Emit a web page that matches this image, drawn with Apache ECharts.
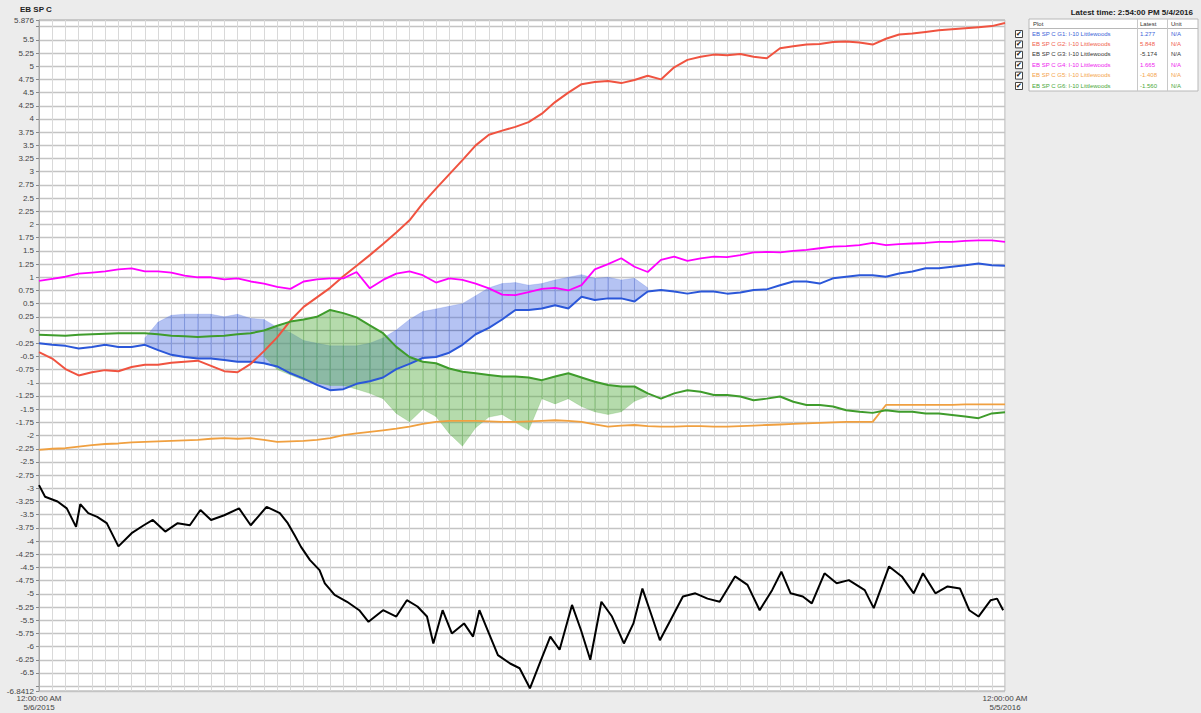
<!DOCTYPE html>
<html><head><meta charset="utf-8">
<script src="https://cdn.jsdelivr.net/npm/echarts@6/dist/echarts.min.js"></script>
<style>html,body{margin:0;padding:0;background:#ececec}#c{width:1201px;height:713px}</style>
</head><body><div id="c"></div>
<script>
// ---- data ----
const days = [0,5,10,15,20,25,30,35,40,45,50,55,60,65,70,75,80,85,90,95,100,105,110,115,120,125,130,135,140,145,150,155,160,165,170,175,180,185,190,195,200,205,210,215,220,225,230,235,240,245,250,255,260,265,270,275,280,285,290,295,300,305,310,315,320,325,330,335,340,345,350,355,360,365];
const xTickDays = [0, 365];
const xTickLabels = ['12:00:00 AM\n5/6/2015', '12:00:00 AM\n5/5/2016'];
const yLabelValues = [5.876,5.5,5.25,5,4.75,4.5,4.25,4,3.75,3.5,3.25,3,2.75,2.5,2.25,2,1.75,1.5,1.25,1,0.75,0.5,0.25,0,-0.25,-0.5,-0.75,-1,-1.25,-1.5,-1.75,-2,-2.25,-2.5,-2.75,-3,-3.25,-3.5,-3.75,-4,-4.25,-4.5,-4.75,-5,-5.25,-5.5,-5.75,-6,-6.25,-6.5,-6.8412];

const seriesNames = ['EB SP C G1: I-10 Littlewoods','EB SP C G2: I-10 Littlewoods','EB SP C G3: I-10 Littlewoods','EB SP C G4: I-10 Littlewoods','EB SP C G5: I-10 Littlewoods','EB SP C G6: I-10 Littlewoods'];
const latestValues = ['1.277','5.848','-5.174','1.665','-1.408','-1.560'];
const units = ['N/A','N/A','N/A','N/A','N/A','N/A'];

const g1Blue = [-0.25,-0.28,-0.30,-0.35,-0.32,-0.28,-0.32,-0.32,-0.28,-0.38,-0.47,-0.51,-0.54,-0.54,-0.57,-0.60,-0.60,-0.63,-0.69,-0.82,-0.92,-1.04,-1.14,-1.12,-1.02,-0.97,-0.90,-0.74,-0.64,-0.53,-0.51,-0.43,-0.28,-0.08,0.04,0.20,0.38,0.38,0.41,0.47,0.41,0.63,0.57,0.60,0.60,0.54,0.73,0.76,0.73,0.69,0.73,0.73,0.69,0.71,0.76,0.77,0.85,0.92,0.92,0.88,0.98,1.01,1.04,1.04,1.01,1.07,1.11,1.17,1.17,1.20,1.23,1.26,1.23,1.22];
const g1BlueSpikeTop = [null,null,null,null,null,null,null,null,-0.15,0.15,0.28,0.30,0.30,0.30,0.25,0.30,0.22,0.20,0.05,-0.05,-0.20,-0.25,-0.30,-0.30,-0.30,-0.25,-0.15,0.00,0.20,0.35,0.40,0.45,0.50,0.65,0.80,0.88,0.90,0.85,0.88,0.95,1.00,1.05,0.98,1.00,0.95,0.98,0.80,null,null,null,null,null,null,null,null,null,null,null,null,null,null,null,null,null,null,null,null,null,null,null,null,null,null,null];
const g2Red = [-0.42,-0.54,-0.74,-0.86,-0.80,-0.76,-0.78,-0.70,-0.66,-0.66,-0.62,-0.60,-0.58,-0.68,-0.78,-0.80,-0.64,-0.40,-0.14,0.18,0.44,0.62,0.80,1.02,1.22,1.42,1.63,1.85,2.08,2.40,2.68,2.95,3.22,3.50,3.70,3.78,3.85,3.94,4.10,4.32,4.50,4.66,4.70,4.72,4.68,4.74,4.82,4.75,4.98,5.12,5.18,5.22,5.21,5.23,5.18,5.15,5.34,5.38,5.41,5.42,5.46,5.47,5.45,5.41,5.52,5.60,5.62,5.65,5.68,5.70,5.72,5.74,5.76,5.82];
const g3BlackDays = [0,2.3,7,10.5,14,15.6,18.6,22,25.6,30,35,39.6,43,47.7,52.4,57,61,65,70,75.6,80,86,91,94,96.6,99,102.4,106,108,111.7,116.4,121,124.5,130,135,139,143,146.6,149,152.5,156,160.6,164,166.4,170,173.4,178,181.6,185.5,189.7,193.2,196.7,201.4,204.8,208.3,212.5,216.5,221,224.6,228,231.6,234.6,238.6,243.3,248,252.6,257.2,263,267.7,272.3,277,280.5,284,288.6,292,296.8,301.4,306,312,315.4,321.2,326,330.5,334,338.7,343.3,348,351.5,355,359.6,362,364.3];
const g3Black = [-2.94,-3.16,-3.25,-3.38,-3.73,-3.30,-3.47,-3.54,-3.66,-4.10,-3.85,-3.70,-3.60,-3.82,-3.66,-3.70,-3.41,-3.60,-3.51,-3.38,-3.70,-3.35,-3.47,-3.66,-3.89,-4.11,-4.36,-4.55,-4.80,-5.02,-5.15,-5.31,-5.53,-5.31,-5.43,-5.12,-5.24,-5.43,-5.94,-5.31,-5.75,-5.56,-5.81,-5.31,-5.75,-6.16,-6.32,-6.41,-6.79,-6.25,-5.81,-6.06,-5.21,-5.69,-6.25,-5.15,-5.43,-5.94,-5.56,-4.90,-5.43,-5.88,-5.50,-5.05,-4.99,-5.09,-5.15,-4.67,-4.83,-5.31,-4.93,-4.58,-4.99,-5.05,-5.18,-4.61,-4.80,-4.74,-4.93,-5.27,-4.48,-4.67,-4.99,-4.61,-4.99,-4.86,-4.90,-5.31,-5.43,-5.12,-5.09,-5.31];
const g4Magenta = [0.93,0.97,1.01,1.07,1.09,1.11,1.15,1.17,1.11,1.11,1.09,1.03,1.00,1.00,0.96,0.98,0.92,0.88,0.82,0.78,0.92,0.96,0.98,0.98,1.10,0.79,0.95,1.07,1.11,1.04,0.90,0.98,0.95,0.88,0.79,0.67,0.66,0.72,0.78,0.80,0.75,0.85,1.15,1.25,1.36,1.20,1.10,1.33,1.39,1.31,1.36,1.39,1.38,1.42,1.47,1.48,1.47,1.50,1.52,1.55,1.58,1.59,1.61,1.65,1.61,1.63,1.64,1.65,1.67,1.67,1.69,1.70,1.70,1.67];
const g5Orange = [-2.27,-2.25,-2.24,-2.21,-2.18,-2.16,-2.15,-2.13,-2.12,-2.11,-2.10,-2.09,-2.08,-2.06,-2.05,-2.06,-2.05,-2.08,-2.12,-2.11,-2.10,-2.08,-2.05,-1.99,-1.96,-1.93,-1.90,-1.87,-1.83,-1.78,-1.74,-1.72,-1.72,-1.72,-1.73,-1.74,-1.74,-1.73,-1.72,-1.71,-1.72,-1.74,-1.79,-1.83,-1.81,-1.80,-1.82,-1.83,-1.83,-1.82,-1.82,-1.83,-1.83,-1.82,-1.81,-1.80,-1.79,-1.78,-1.77,-1.76,-1.75,-1.74,-1.74,-1.74,-1.42,-1.42,-1.42,-1.42,-1.42,-1.42,-1.41,-1.41,-1.41,-1.41];
const g6Green = [-0.09,-0.10,-0.11,-0.09,-0.08,-0.07,-0.06,-0.06,-0.06,-0.08,-0.11,-0.12,-0.13,-0.12,-0.11,-0.08,-0.06,-0.01,0.08,0.16,0.20,0.25,0.38,0.32,0.24,0.09,-0.06,-0.32,-0.51,-0.60,-0.63,-0.73,-0.79,-0.82,-0.85,-0.88,-0.88,-0.90,-0.95,-0.88,-0.82,-0.90,-0.98,-1.04,-1.07,-1.07,-1.20,-1.30,-1.20,-1.14,-1.17,-1.23,-1.23,-1.26,-1.33,-1.30,-1.26,-1.36,-1.42,-1.42,-1.45,-1.52,-1.55,-1.57,-1.52,-1.55,-1.55,-1.58,-1.58,-1.61,-1.64,-1.67,-1.58,-1.56];
const g6GreenSpikeLow = [null,null,null,null,null,null,null,null,null,null,null,null,null,null,null,null,null,-0.50,-0.75,-0.85,-0.95,-1.00,-1.05,-1.05,-1.12,-1.20,-1.30,-1.58,-1.74,-1.50,-1.64,-1.96,-2.20,-1.85,-1.65,-1.60,-1.75,-1.90,-1.30,-1.40,-1.30,-1.45,-1.55,-1.60,-1.55,-1.35,-1.25,null,null,null,null,null,null,null,null,null,null,null,null,null,null,null,null,null,null,null,null,null,null,null,null,null,null,null];

const colors = ['#2b57d9','#f05340','#000000','#ff00ff','#f0a040','#3f9c2c'];
const textColors = ['#3a62d8','#f0604e','#333333','#ee22ee','#f4a44c','#4aa83a'];

// ---- build ----
const pairs = (xs, ys) => xs.map((x, i) => [x, ys[i] == null ? null : ys[i]]);
const yMin = -6.8412, yMax = 5.876;
const gridTicks = [yMin];
for (let k = -27; k <= 23; k++) gridTicks.push(k * 0.25);
gridTicks.push(yMax);

// band between two read envelopes, drawn as quads through the axis scales
function bandSeries(lowArr, highArr, color) {
  const segs = [];
  for (let i = 0; i + 1 < days.length; i++) {
    if (lowArr[i] == null || highArr[i] == null || lowArr[i+1] == null || highArr[i+1] == null) continue;
    segs.push([days[i], lowArr[i], highArr[i], days[i+1], lowArr[i+1], highArr[i+1]]);
  }
  return {
    type:'custom', silent:true, z:2, data:segs,
    encode:{x:[0,3], y:[1,2,4,5]},
    renderItem:(params, api) => {
      const p1 = api.coord([api.value(0), api.value(1)]);
      const p2 = api.coord([api.value(3), api.value(4)]);
      const p3 = api.coord([api.value(3), api.value(5)]);
      const p4 = api.coord([api.value(0), api.value(2)]);
      return {type:'polygon', shape:{points:[p1,p2,p3,p4]}, style:{fill:color, stroke:color, lineWidth:0.5}};
    }
  };
}
function lineSeries(name, xs, ys, color, w) {
  return {name, type:'line', symbol:'none', data: pairs(xs, ys), lineStyle:{color, width:w}, itemStyle:{color}, z:3};
}

const series = [
  bandSeries(g1Blue, g1BlueSpikeTop, 'rgba(70,105,225,0.40)'),
  lineSeries(seriesNames[0], days, g1Blue, colors[0], 2),
  lineSeries(seriesNames[1], days, g2Red, colors[1], 2),
  lineSeries(seriesNames[2], g3BlackDays, g3Black, colors[2], 2),
  lineSeries(seriesNames[3], days, g4Magenta, colors[3], 1.8),
  lineSeries(seriesNames[4], days, g5Orange, colors[4], 1.8),
  bandSeries(g6GreenSpikeLow, g6Green, 'rgba(90,175,70,0.45)'),
  lineSeries(seriesNames[5], days, g6Green, colors[5], 2)
];

// legend panel graphics
const graphics = [
  {type:'text', left:20, top:5, style:{text:'EB SP C', font:'bold 8px "Liberation Sans", Arial, sans-serif', fill:'#222'}},
  {type:'text', right:8, top:8, style:{text:'Latest time: 2:54:00 PM 5/4/2016', font:'bold 8px "Liberation Sans", Arial, sans-serif', fill:'#222'}},
  {type:'rect', shape:{x:1029, y:19, width:169, height:72}, style:{fill:'#ffffff', stroke:'#b8b8b8', lineWidth:1}},
  {type:'line', shape:{x1:1029, y1:28.5, x2:1198, y2:28.5}, style:{stroke:'#b8b8b8'}},
  {type:'line', shape:{x1:1137.5, y1:19, x2:1137.5, y2:91}, style:{stroke:'#c8c8c8'}},
  {type:'line', shape:{x1:1167.5, y1:19, x2:1167.5, y2:91}, style:{stroke:'#c8c8c8'}},
  {type:'text', x:1033, y:21, style:{text:'Plot', font:'6px "Liberation Sans", Arial, sans-serif', fill:'#333'}},
  {type:'text', x:1140, y:21, style:{text:'Latest', font:'6px "Liberation Sans", Arial, sans-serif', fill:'#333'}},
  {type:'text', x:1171, y:21, style:{text:'Unit', font:'6px "Liberation Sans", Arial, sans-serif', fill:'#333'}}
];
seriesNames.forEach((nm, i) => {
  const y = 34 + i * 10.4;
  graphics.push({type:'rect', shape:{x:1015.5, y:y-3.5, width:7, height:7}, style:{fill:'#fff', stroke:'#444', lineWidth:1}});
  graphics.push({type:'text', x:1016, y:y-4, style:{text:'✔', font:'7px "DejaVu Sans", sans-serif', fill:'#111'}});
  graphics.push({type:'text', x:1032, y:y-3.5, style:{text:nm, font:'6px "Liberation Sans", Arial, sans-serif', fill:textColors[i]}});
  graphics.push({type:'text', x:1140, y:y-3.5, style:{text:latestValues[i], font:'6px "Liberation Sans", Arial, sans-serif', fill:textColors[i]}});
  graphics.push({type:'text', x:1171, y:y-3.5, style:{text:units[i], font:'6px "Liberation Sans", Arial, sans-serif', fill:textColors[i]}});
});

const chart = echarts.init(document.getElementById('c'), null, {renderer:'svg'});
chart.setOption({
  backgroundColor:'#ececec',
  animation:false,
  grid:{left:39, top:20, right:196, bottom:22, outerBoundsMode:'none', containLabel:false, show:true, backgroundColor:'#ffffff', borderColor:'#a8a8a8', borderWidth:1},
  xAxis:{type:'value', min:0, max:365, interval:5,
    axisLine:{show:true, lineStyle:{color:'#a8a8a8'}}, axisTick:{show:false},
    axisLabel:{customValues:xTickDays, formatter:(v)=>{const i=xTickDays.indexOf(v); return i<0?'':xTickLabels[i];}, color:'#444', fontSize:8, lineHeight:9, margin:3, fontFamily:'"Liberation Sans", Arial, sans-serif', showMinLabel:true, showMaxLabel:true},
    splitLine:{show:true, lineStyle:{color:'#d9d9d9', width:1}}},
  yAxis:{type:'value', min:yMin, max:yMax,
    axisLine:{show:true, lineStyle:{color:'#a8a8a8'}},
    axisTick:{show:true, customValues:gridTicks, length:3, lineStyle:{color:'#888'}},
    axisLabel:{customValues:yLabelValues, formatter:(v)=>String(v), color:'#444', fontSize:8, margin:5, fontFamily:'"Liberation Sans", Arial, sans-serif', showMinLabel:true, showMaxLabel:true},
    splitLine:{show:true, lineStyle:{color:'#c4c4c4', width:1.4}}},
  graphic:graphics,
  series:series
});
</script></body></html>
